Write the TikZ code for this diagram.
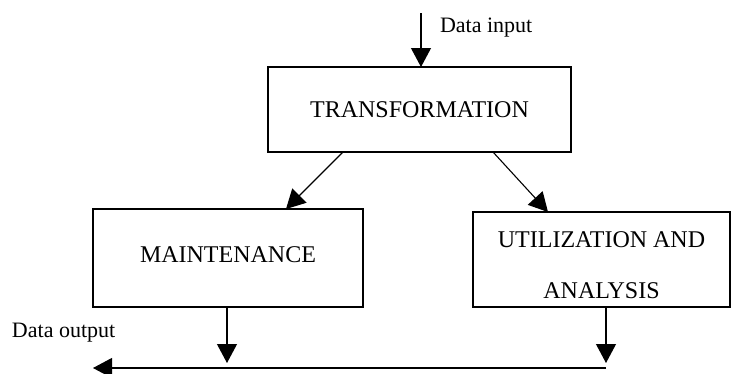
\documentclass[tikz,border=0pt]{standalone}
\usepackage{fontspec}
\setmainfont{Liberation Serif}
\usetikzlibrary{arrows.meta,calc}

\begin{document}
\begin{tikzpicture}[x=1pt,y=-1pt,
  every node/.style={inner sep=0pt,outer sep=0pt},
  box/.style={draw,line width=1.1pt,align=center,
    font=\fontsize{24}{51}\selectfont},
  flow/.style={line width=1.1pt,-{Triangle[length=19pt,width=20pt]}},
  tag/.style={anchor=base west,font=\fontsize{22}{26}\selectfont}]
\useasboundingbox (0,0) rectangle (732,373);

% process boxes
\node[box,minimum width=303pt,minimum height=85pt] (trans) at (419.5,109.5) {TRANSFORMATION};
\node[box,minimum width=270pt,minimum height=98pt] (maint) at (228,258) {\raisebox{6pt}{MAINTENANCE}};
\node[box,minimum width=257pt,minimum height=95pt] (util) at (601.5,259.5)
  {\raisebox{-10pt}[0pt][0pt]{\begin{tabular}{@{}c@{}}UTILIZATION AND\\ANALYSIS\end{tabular}}};

% free ends of the input and output lines
\coordinate (in) at (421,13);
\coordinate (outL) at (93,368);
\coordinate (outR) at (606,368);
\coordinate (outM) at (227,368);

% labels
\node[tag] (lin) at (440,32) {Data input};
\node[tag] (lout) at (12,337) {Data output};

% connectors
\draw[flow] (in) -- (in |- trans.north);
\draw[flow] (343,0 |- trans.south) -- (286,0 |- maint.north);
\draw[flow] (493,0 |- trans.south) -- (548,0 |- util.north);
\draw[flow] (outM |- maint.south) -- ($(outM)+(0,-5)$);
\draw[flow] (outR |- util.south) -- ($(outR)+(0,-5)$);
\draw[flow] (outR) -- (outL);
\end{tikzpicture}
\end{document}
